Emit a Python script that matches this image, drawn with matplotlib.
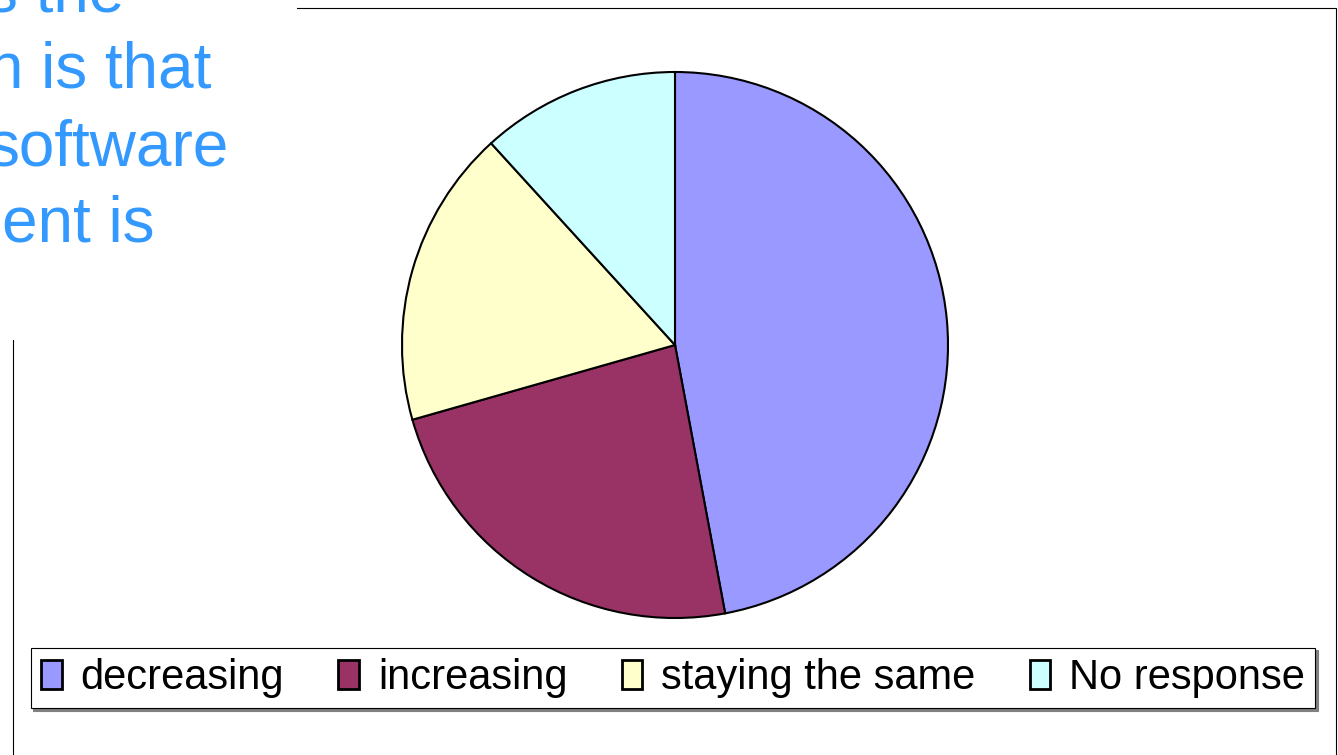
import matplotlib.pyplot as plt
from matplotlib.patches import Rectangle

plt.rcParams['font.family'] = ['Liberation Sans', 'DejaVu Sans']

# pie data (counts)
labels = ['decreasing', 'increasing', 'staying the same', 'No response']
values = [8, 4, 3, 2]
colors = ['#9999FF', '#993366', '#FFFFCC', '#CCFFFF']

# clipped slide text on the left
text_lines = ['s the', 'n is that', 'software', 'ent is']
text_x = [-14, -12, -13, 2]
text_base = [11, 88, 165, 241]

W, H = 1338, 755
fig = plt.figure(figsize=(W / 100, H / 100), dpi=100)
ax = fig.add_axes([0, 0, 1, 1])
ax.set_xlim(0, W)
ax.set_ylim(H, 0)
ax.axis('off')

# chart area border, partly hidden by the text box
ax.add_patch(Rectangle((13, 8), 1336 - 13, H + 10, fill=False, edgecolor='black', linewidth=0.8, zorder=1))
ax.add_patch(Rectangle((-5, -5), 302, 345, facecolor='white', edgecolor='none', zorder=2))

for s, x, y in zip(text_lines, text_x, text_base):
    ax.text(x, y, s, fontsize=46, color='#3399FF', ha='left', va='baseline', zorder=3)

# pie in its own axes
pax = fig.add_axes([0, 0, 1, 1])
pax.set_xlim(0, W)
pax.set_ylim(0, H)
pax.set_aspect('equal')
pax.axis('off')
wedges, _ = pax.pie(values, colors=colors, startangle=90, counterclock=False,
                    center=(675, H - 345), radius=273, frame=True,
                    wedgeprops={'edgecolor': 'black', 'linewidth': 1.5})
pax.set_xlim(0, W)
pax.set_ylim(0, H)
pax.axis('off')

leg = fig.legend(wedges, labels, ncol=4, loc='center',
                 bbox_to_anchor=((22 + 1324) / 2 / W, 1 - 678 / H),
                 fontsize=30, frameon=True, fancybox=False,
                 shadow={'color': 'gray', 'alpha': 1},
                 handlelength=0.5, handleheight=0.7, handletextpad=0.45,
                 columnspacing=1.3, borderpad=0.25, borderaxespad=0)
leg.get_frame().set_edgecolor('black')
leg.get_frame().set_linewidth(0.8)
for h in leg.legend_handles:
    h.set_linewidth(2)

fig.savefig('out.png', dpi=100)
